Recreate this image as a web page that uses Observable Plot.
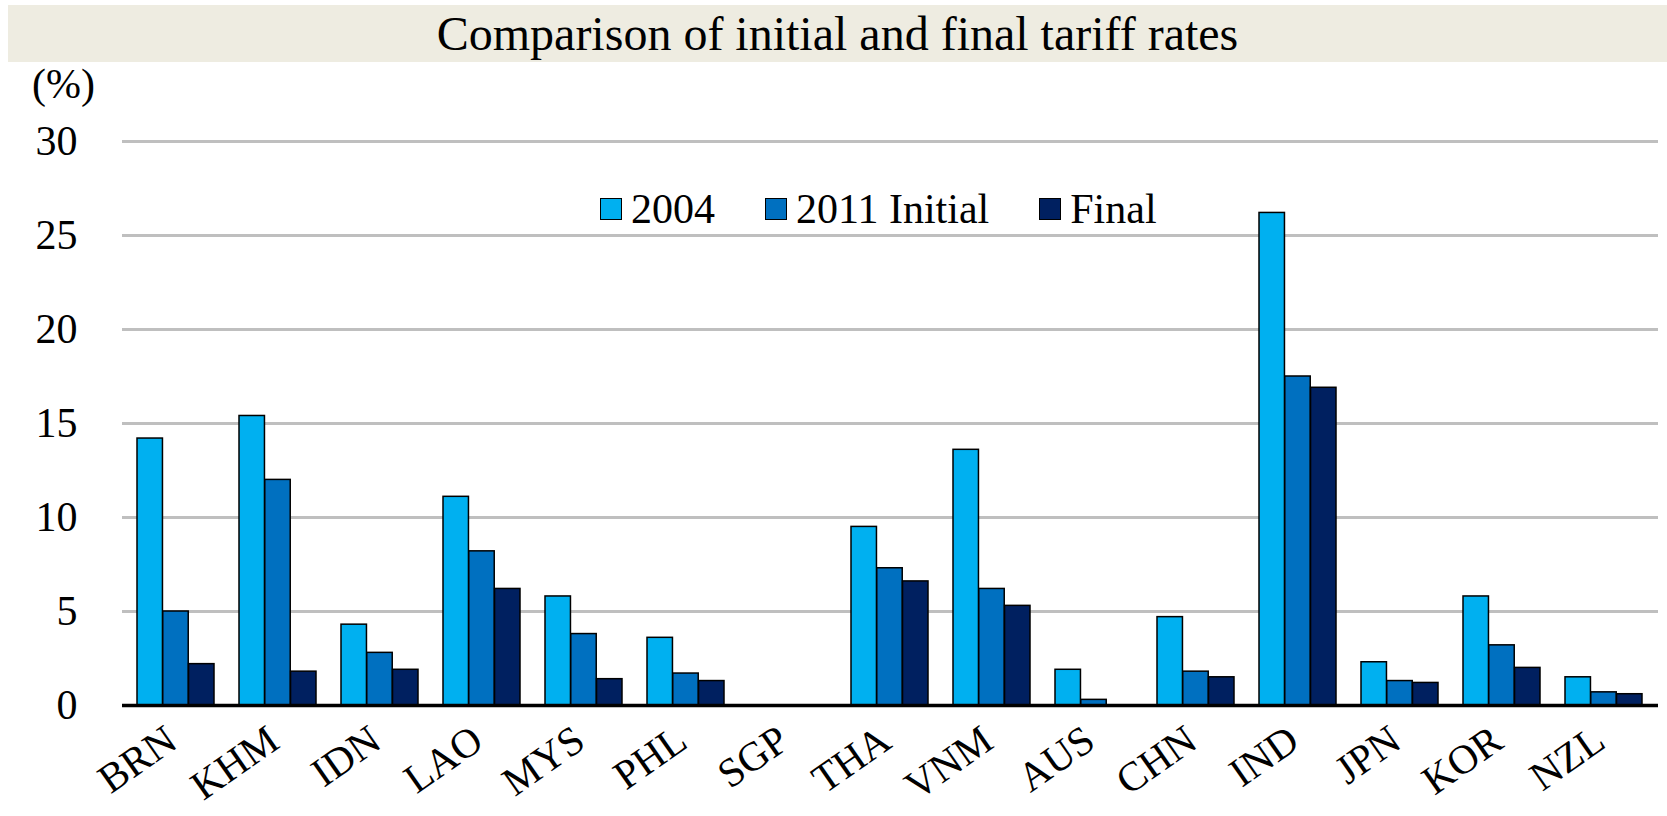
<!DOCTYPE html>
<html><head><meta charset="utf-8">
<script src="https://cdn.jsdelivr.net/npm/d3@7"></script>
<script src="https://cdn.jsdelivr.net/npm/@observablehq/plot@0.6"></script>
<style>
body{margin:0;background:#fff;font-family:"Liberation Serif","Times New Roman",serif;color:#000;}
#wrap{position:relative;width:1667px;height:816px;overflow:hidden;}
#title{position:absolute;left:8px;top:5px;width:1659px;height:57px;background:#EEECE1;font-size:48px;line-height:58px;text-align:center;}
#unit{position:absolute;left:32px;top:61px;font-size:42px;line-height:46px;z-index:2;}
#legend{position:absolute;left:600px;top:186px;display:flex;align-items:center;font-size:42px;line-height:46px;z-index:2;}
.item{display:flex;align-items:center;margin-right:50px;}
.sw{width:20px;height:20px;border:1.5px solid #000;margin-right:9px;box-sizing:content-box;}
#chart{position:absolute;left:0;top:62px;}
</style>
</head><body>
<div id="wrap">
  <div id="title">Comparison of initial and final tariff rates</div>
  <div id="unit">(%)</div>
  <div id="legend"></div>
  <div id="chart"></div>
</div>
<script>
const countries = ["BRN","KHM","IDN","LAO","MYS","PHL","SGP","THA","VNM","AUS","CHN","IND","JPN","KOR","NZL"];
const seriesNames = ["2004","2011 Initial","Final"];
const v2004  = [14.2,15.4,4.3,11.1,5.8,3.6,0,9.5,13.6,1.9,4.7,26.2,2.3,5.8,1.5];
const v2011  = [5.0,12.0,2.8,8.2,3.8,1.7,0,7.3,6.2,0.3,1.8,17.5,1.3,3.2,0.7];
const vFinal = [2.2,1.8,1.9,6.2,1.4,1.3,0,6.6,5.3,0,1.5,16.9,1.2,2.0,0.6];
const colors = ["#00B0F0","#0070C0","#002060"];
const yTicks = [0,5,10,15,20,25,30];

const seriesValues = [v2004, v2011, vFinal];

const W = 1667, H = 754;
const mL = 122, mR = 9, mT = 79, mB = 111;
const padIn = 0.245, padOut = 0.1225;
const step = (W - mL - mR) / (countries.length - padIn + 2 * padOut);
const bw = step * (1 - padIn);
const third = bw / 3;

const marks = [
  Plot.gridY(yTicks.filter(d => d > 0), {stroke: "#BFBFBF", strokeOpacity: 1, strokeWidth: 3})
];
seriesValues.forEach((vals, i) => {
  const rows = countries.map((c, j) => ({country: c, value: vals[j], series: seriesNames[i]}));
  marks.push(Plot.barY(rows, {
    x: "country", y: "value", fill: colors[i], stroke: "#000", strokeWidth: 1.5,
    insetLeft: i * third, insetRight: (2 - i) * third
  }));
});
marks.push(Plot.ruleY([0], {stroke: "#000", strokeWidth: 3.5}));
marks.push(Plot.axisY({ticks: yTicks, tickSize: 0, tickPadding: 45, fontSize: 42, label: null}));
marks.push(Plot.axisX({tickSize: 0, tickPadding: 30, tickRotate: -35, fontSize: 41, label: null, dx: -4}));

const chart = Plot.plot({
  width: W, height: H,
  marginLeft: mL, marginRight: mR, marginTop: mT, marginBottom: mB,
  style: {fontFamily: "'Liberation Serif', 'Times New Roman', serif", color: "#000", background: "transparent", overflow: "visible"},
  x: {type: "band", domain: countries, paddingInner: padIn, paddingOuter: padOut},
  y: {domain: [0, 30]},
  marks
});
document.getElementById("chart").appendChild(chart);

const legend = document.getElementById("legend");
seriesNames.forEach((s, i) => {
  const item = document.createElement("div");
  item.className = "item";
  const sw = document.createElement("div");
  sw.className = "sw";
  sw.style.background = colors[i];
  const t = document.createElement("span");
  t.textContent = s;
  item.appendChild(sw); item.appendChild(t);
  legend.appendChild(item);
});
</script>
</body></html>
